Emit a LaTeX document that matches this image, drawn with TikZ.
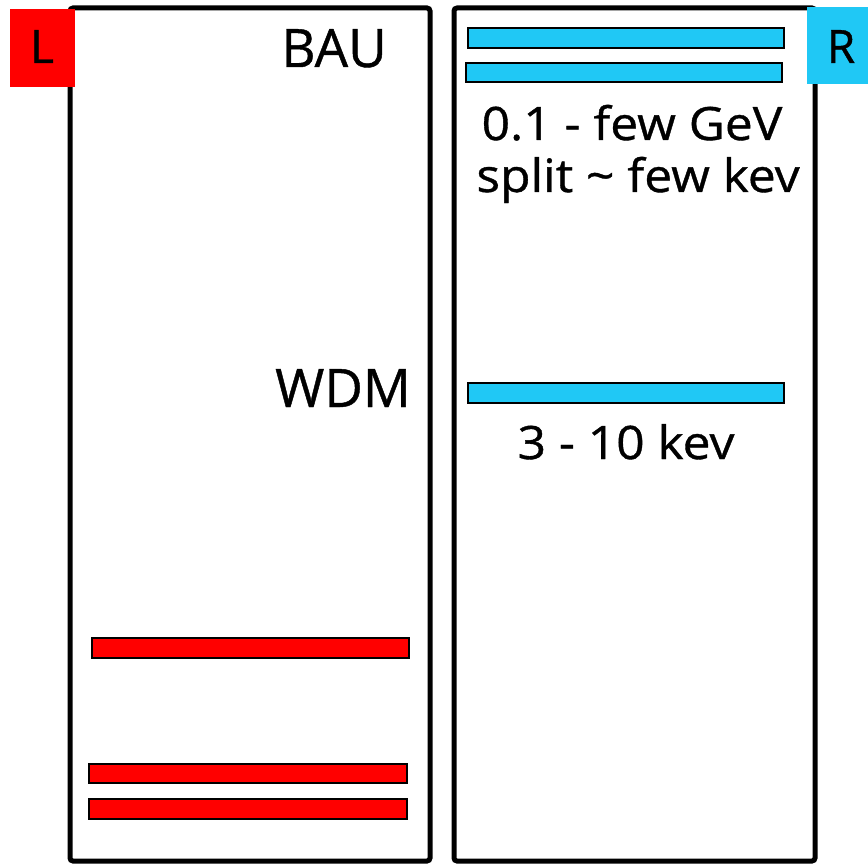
\documentclass[tikz,border=0pt]{standalone}
\usepackage{fontspec}
\setmainfont{Open Sans}[FakeBold=0.8]
\newfontfamily\widefont{Open Sans}[FakeStretch=1.08,FakeBold=0.8]
\definecolor{lred}{RGB}{255,0,0}
\definecolor{rblue}{RGB}{32,200,245}
\begin{document}
\begin{tikzpicture}[x=1pt,y=-1pt,
  panel/.style={draw=black,line width=5pt,rounded corners=3pt},
  lbar/.style={draw=black,line width=1.5pt,fill=lred},
  rbar/.style={draw=black,line width=1.5pt,fill=rblue},
  big/.style={anchor=base,inner sep=0pt,font=\fontsize{53}{60}\selectfont},
  mid/.style={anchor=base,inner sep=0pt,font=\widefont\fontsize{46}{52}\selectfont},
  tag/.style={anchor=base,inner sep=0pt,font=\fontsize{46}{52}\selectfont}]
\useasboundingbox (0,0) rectangle (868,864);
\draw[panel] (70,8) rectangle (430,861);
\draw[panel] (454,8) rectangle (815,861);
\fill[lred] (10,9) rectangle (75,87);
\fill[rblue] (807,7) rectangle (868,84);
\node[tag] (L) at (42,63) {L};
\node[tag] (R) at (841,63) {R};
\draw[rbar] (468,28) rectangle (784,48);
\draw[rbar] (466,63) rectangle (782,82);
\draw[rbar] (468,383) rectangle (784,403);
\draw[lbar] (92,638) rectangle (409,658);
\draw[lbar] (89,764) rectangle (407,783);
\draw[lbar] (89,799) rectangle (407,819);
\node[big] (bau) at (334,67) {BAU};
\node[big] (wdm) at (343,407) {WDM};
\node[mid] (gev) at (632,140) {0.1 - few GeV};
\node[mid] (split) at (638,192) {split \char`~\ few kev};
\node[mid] (kev) at (626,459) {3 - 10 kev};
\end{tikzpicture}
\end{document}
